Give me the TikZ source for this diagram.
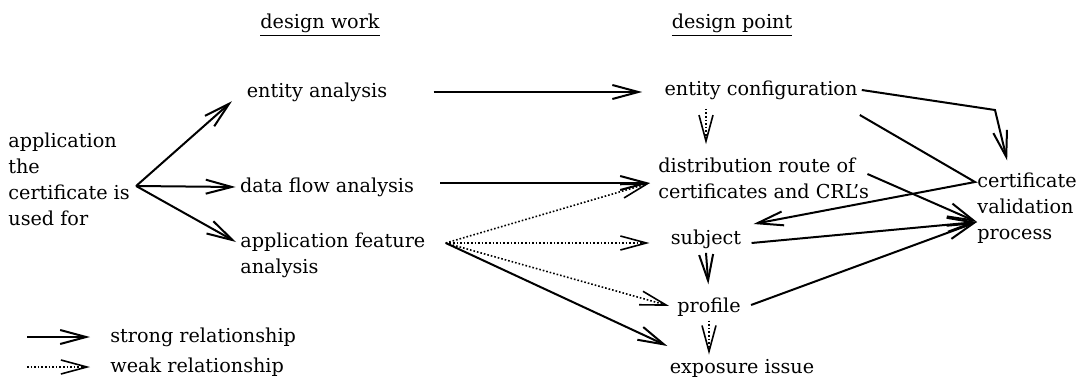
\documentclass[tikz,border=0pt]{standalone}
\usepackage{fontspec}
\setmainfont{DejaVu Serif}
\usepackage{tikz}
\usetikzlibrary{arrows.meta}
\tikzset{
  strongrel/.style={
    -{Straight Barb[length=13pt, width=7pt]},
    line width=1pt
  },
  weakrel/.style={
    -{Straight Barb[length=13pt, width=7pt]},
    line width=0.8pt,
    densely dotted
  },
  topic/.style={
    inner sep=2pt,
    font=\fontsize{9.6}{13}\selectfont
  },
  topicblock/.style={
    topic,
    align=left
  }
}
\begin{document}
\begin{tikzpicture}[x=0.5pt, y=-0.5pt]
    % picture size in pixels of the original
    \useasboundingbox (0,0) rectangle (1077,380);

    % column headings
    \node[topic] (work) at (320,25) {\underline{design work}};
    \node[topic] (point) at (732,25) {\underline{design point}};

    % application
    \node[topicblock, anchor=west] (app) at (4,179) {application\\the\\certificate is\\used for};

    % design work
    \node[topic] (ana) at (317,92) {entity analysis};
    \node[topic] (flow) at (327,187) {data flow analysis};
    \node[topicblock, anchor=west] (feat) at (236,255) {application feature\\analysis};

    % design point
    \node[topic] (conf) at (761,90) {entity configuration};
    \node[topicblock, anchor=west] (dist) at (654,178) {distribution route of\\certificates and CRL's};
    \node[topic] (subj) at (706,239) {subject};
    \node[topic] (prof) at (709,307) {profile};
    \node[topic] (expo) at (742,368) {exposure issue};
    \node[topicblock, anchor=west] (valid) at (973,208) {certificate\\validation\\process};

    % connector ends
    \coordinate (fork) at ([shift={(2,7)}]app.east);
    \coordinate (featout) at ([shift={(16,-12)}]feat.east);
    \coordinate (distin) at ([shift={(-4,5)}]dist.west);
    \coordinate (bend) at (995,110);
    \coordinate (cvtop) at ([shift={(2,-26)}]valid.west);
    \coordinate (vin) at ([shift={(4,14)}]valid.west);

    % application -> design work
    \draw[strongrel, shorten >=7pt] (fork) -- (ana.west);
    \draw[strongrel] (fork) -- (flow.west);
    \draw[strongrel] (fork) -- ([shift={(0,-13)}]feat.west);

    % design work -> design point
    \draw[strongrel, shorten <=21pt, shorten >=9pt] (ana.east) -- (ana.east -| conf.west);
    \draw[strongrel, shorten <=11pt] (flow.east |- distin) -- (distin);
    \draw[weakrel] (featout) -- (distin);
    \draw[weakrel, shorten >=8.5pt] (featout) -- (featout -| subj.west);
    \draw[weakrel, shorten >=2pt] (featout) -- (prof.west);
    \draw[strongrel] (featout) -- ([shift={(2,-22)}]expo.west);

    % inside design point
    \draw[weakrel, shorten <=2.5pt, shorten >=4.5pt] (conf.south -| subj) -- (dist.north -| subj);
    \draw[strongrel, shorten >=4.5pt] (subj.south) -- (prof.north);
    \draw[weakrel] (prof.south) -- (prof.south |- expo.north);

    % certificate validation process
    \draw[strongrel, shorten >=4pt] (conf.east) -- (bend) -- ([shift={(-18,0)}]valid.north);
    \draw[strongrel] ([shift={(-2,25)}]conf.east) -- (cvtop) -- ([shift={(8,-15)}]subj.east);
    \draw[strongrel] ([shift={(-6,-4)}]dist.east) -- (vin);
    \draw[strongrel] ([shift={(6,4)}]subj.east) -- (vin);
    \draw[strongrel] ([shift={(6,-2)}]prof.east) -- (vin);

    % legend
    \node[topic, anchor=west] (lstrong) at (106,337) {strong relationship};
    \node[topic, anchor=west] (lweak) at (106,367) {weak relationship};
    \coordinate (lsa) at (27,337);
    \coordinate (lwa) at (27,367);
    \draw[strongrel, shorten >=8pt] (lsa) -- (lstrong.west);
    \draw[weakrel, shorten >=8pt] (lwa) -- (lweak.west);

\end{tikzpicture}
\end{document}
